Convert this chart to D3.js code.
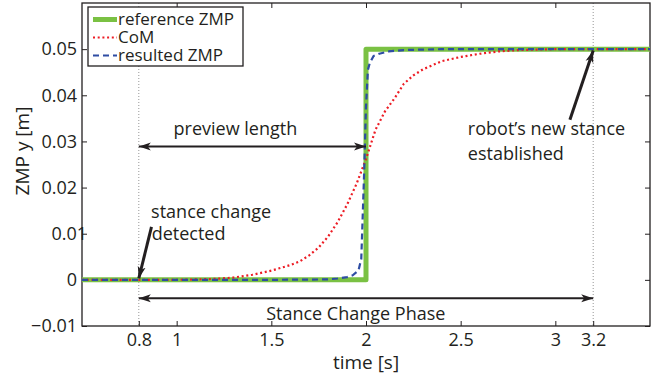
<!DOCTYPE html>
<html>
<head>
<meta charset="utf-8">
<script src="https://cdn.jsdelivr.net/npm/d3@7"></script>
<style>
  body { margin: 0; background: #fff; }
  text { font-family: "Open Sans", sans-serif; fill: #231f20; }
</style>
</head>
<body>
<div id="chart"></div>
<script>
// reference ZMP (step)
const refTime = [0.5, 2.0, 2.0, 3.5];
const refZmp = [0, 0, 0.05, 0.05];

// CoM trajectory
const comTime = [0.5, 1.0, 1.2, 1.3, 1.4, 1.5, 1.6, 1.65, 1.7, 1.75, 1.8, 1.85, 1.9, 1.95, 2.0,
    2.05, 2.1, 2.15, 2.2, 2.25, 2.3, 2.4, 2.5, 2.6, 2.7, 2.8, 2.9, 3.0, 3.5];
const comY = [0, 0, 0.0002, 0.0005, 0.0011, 0.002, 0.0032, 0.004, 0.0053, 0.007, 0.0094, 0.0125,
    0.0163, 0.0208, 0.0262, 0.0325, 0.0365, 0.0393, 0.0425, 0.0443, 0.0456, 0.0474, 0.0483,
    0.049, 0.0495, 0.0498, 0.0499, 0.05, 0.05];

// resulted ZMP
const resTime = [0.5, 1.5, 1.8, 1.85, 1.9, 1.93, 1.96, 1.975, 1.99, 2.0, 2.01, 2.02, 2.04, 2.07,
    2.12, 2.2, 2.4, 3.5];
const resZmp = [0, 0, 0.0001, 0.0003, 0.0006, 0.001, 0.002, 0.0045, 0.023, 0.0376, 0.0455, 0.047,
    0.0485, 0.049, 0.0495, 0.0498, 0.05, 0.05];

const xTicks = [0.8, 1, 1.5, 2, 2.5, 3, 3.2];
const yTicks = [-0.01, 0, 0.01, 0.02, 0.03, 0.04, 0.05];
const yTickLabels = ['\u22120.01', '0', '0.01', '0.02', '0.03', '0.04', '0.05'];
const markLines = [0.8, 3.2];

const legendItems = [
    { name: 'reference ZMP', color: '#7ac143', width: 5, dash: null },
    { name: 'CoM', color: '#ed1c24', width: 2.2, dash: '2,2.7' },
    { name: 'resulted ZMP', color: '#2e4da3', width: 2.2, dash: '6,4' },
];

const margin = { top: 3, right: 17, bottom: 52, left: 82 },
    W = 667,
    H = 378,
    width = W - margin.left - margin.right,
    height = H - margin.top - margin.bottom;

const svg = d3.select('#chart')
    .append('svg')
    .attr('width', W)
    .attr('height', H);

const g = svg.append('g')
    .attr('transform', `translate(${margin.left},${margin.top})`);

const x = d3.scaleLinear().domain([0.5, 3.5]).range([0, width]);
const y = d3.scaleLinear().domain([-0.01, 0.06]).range([height, 0]);

// dotted marker lines
markLines.forEach((t) => {
    g.append('line')
        .attr('x1', x(t)).attr('x2', x(t))
        .attr('y1', 0).attr('y2', height)
        .attr('stroke', '#8a8a8a')
        .attr('stroke-width', 0.9)
        .attr('stroke-dasharray', '1,2');
});

// axes, matlab style: inward ticks on all sides
const tickLen = 5;
g.append('g')
    .attr('transform', `translate(0,${height})`)
    .call(d3.axisBottom(x).tickValues(xTicks).tickSizeInner(-tickLen).tickSizeOuter(0)
        .tickPadding(7).tickFormat(d3.format('')))
    .call((a) => a.select('.domain').remove())
    .selectAll('text').attr('font-size', 18).attr('dy', '0.71em');
g.append('g')
    .call(d3.axisTop(x).tickValues(xTicks.filter((t) => t !== 0.8 && t !== 3.2)).tickSizeInner(-tickLen)
        .tickSizeOuter(0).tickFormat(''))
    .call((a) => a.select('.domain').remove());
g.append('g')
    .call(d3.axisLeft(y).tickValues(yTicks).tickSizeInner(-tickLen).tickSizeOuter(0)
        .tickPadding(5).tickFormat((d, i) => yTickLabels[i]))
    .call((a) => a.select('.domain').remove())
    .selectAll('text')
    .attr('font-size', 18)
    .attr('dx', (d) => (d === 0.01 ? 10 : 0));
g.append('g')
    .attr('transform', `translate(${width},0)`)
    .call(d3.axisRight(y).tickValues(yTicks).tickSizeInner(-tickLen).tickSizeOuter(0).tickFormat(''))
    .call((a) => a.select('.domain').remove());
g.selectAll('.tick line').attr('stroke', '#231f20').attr('stroke-width', 1);

g.append('rect')
    .attr('width', width).attr('height', height)
    .attr('fill', 'none')
    .attr('stroke', '#231f20')
    .attr('stroke-width', 1.3);

// axis labels
svg.append('text')
    .attr('x', 366).attr('y', 369)
    .attr('text-anchor', 'middle')
    .attr('font-size', 19)
    .text('time [s]');
svg.append('text')
    .attr('transform', 'translate(29,151) rotate(-90)')
    .attr('text-anchor', 'middle')
    .attr('font-size', 19)
    .text('ZMP y [m]');

// series
const line = d3.line().x((d) => x(d[0])).y((d) => y(d[1]));
const series = [
    d3.zip(refTime, refZmp),
    d3.zip(comTime, comY),
    d3.zip(resTime, resZmp),
];
series.forEach((pts, i) => {
    const it = legendItems[i];
    g.append('path')
        .datum(pts)
        .attr('d', line)
        .attr('fill', 'none')
        .attr('stroke', it.color)
        .attr('stroke-width', it.width)
        .attr('stroke-linejoin', 'round')
        .attr('stroke-dasharray', it.dash);
});

// arrow markers
const defs = svg.append('defs');
['end', 'start'].forEach((k) => {
    defs.append('marker')
        .attr('id', 'arrow-' + k)
        .attr('viewBox', '0 0 12 10')
        .attr('refX', k === 'end' ? 12 : 0)
        .attr('refY', 5)
        .attr('markerWidth', 12)
        .attr('markerHeight', 10)
        .attr('markerUnits', 'userSpaceOnUse')
        .attr('orient', 'auto')
        .append('path')
        .attr('d', k === 'end' ? 'M0,1L12,5L0,9L3,5Z' : 'M12,1L0,5L12,9L9,5Z')
        .attr('fill', '#231f20');
});

const arrow = (t1, v1, t2, v2, both, w) => {
    g.append('line')
        .attr('x1', x(t1)).attr('y1', y(v1))
        .attr('x2', x(t2)).attr('y2', y(v2))
        .attr('stroke', '#231f20')
        .attr('stroke-width', w)
        .attr('marker-end', 'url(#arrow-end)')
        .attr('marker-start', both ? 'url(#arrow-start)' : null);
};
arrow(0.8, 0.0289, 2.0, 0.0289, true, 2);
arrow(0.8, -0.004, 3.2, -0.004, true, 2);
arrow(0.867, 0.0115, 0.8, 0.0003, false, 3);
arrow(3.077, 0.0347, 3.2, 0.0497, false, 3);

// annotation text
const note = (t, v, str, anchor) => {
    g.append('text')
        .attr('x', x(t)).attr('y', y(v))
        .attr('text-anchor', anchor)
        .attr('font-size', 18)
        .text(str);
};
note(1.31, 0.0314, 'preview length', 'middle');
note(1.946, -0.0087, 'Stance Change Phase', 'middle');
note(0.865, 0.01336, 'stance change', 'start');
note(0.868, 0.00866, 'detected', 'start');
note(2.538, 0.0314, 'robot\u2019s new stance', 'start');
note(2.538, 0.026, 'established', 'start');

// legend
const legend = svg.append('g').attr('transform', 'translate(88,7)');
legend.append('rect')
    .attr('width', 155).attr('height', 59)
    .attr('fill', '#fff')
    .attr('stroke', '#231f20')
    .attr('stroke-width', 1.3);
legendItems.forEach((it, i) => {
    const cy = 12.5 + i * 18;
    legend.append('line')
        .attr('x1', 5).attr('x2', 29)
        .attr('y1', cy).attr('y2', cy)
        .attr('stroke', it.color)
        .attr('stroke-width', it.width)
        .attr('stroke-dasharray', it.dash);
    legend.append('text')
        .attr('x', 30).attr('y', cy + 5.5)
        .attr('font-size', 17)
        .text(it.name);
});
</script>
</body>
</html>
